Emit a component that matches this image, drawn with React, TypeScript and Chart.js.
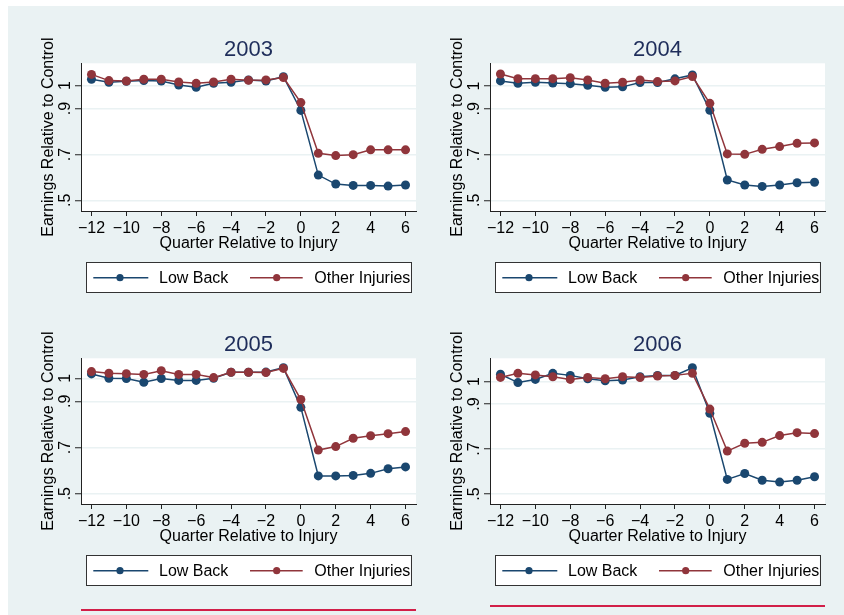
import React, { useEffect, useRef } from 'react';
import { Chart, registerables } from 'chart.js';

Chart.register(...registerables);

// ---------- data ----------
const quarters = [-12, -11, -10, -9, -8, -7, -6, -5, -4, -3, -2, -1, 0, 1, 2, 3, 4, 5, 6];
const xTickValues = [-12, -10, -8, -6, -4, -2, 0, 2, 4, 6];
const xTickLabels = ['\u221212', '\u221210', '\u22128', '\u22126', '\u22124', '\u22122', '0', '2', '4', '6'];
const yTickValues = [0.5, 0.7, 0.9, 1];
const yTickLabels = ['.5', '.7', '.9', '1'];
const seriesNames = ['Low Back', 'Other Injuries'];
const years = ['2003', '2004', '2005', '2006'];
const xTitle = 'Quarter Relative to Injury';
const yTitle = 'Earnings Relative to Control';

const lowBack2003 = [1.028, 1.015, 1.019, 1.022, 1.020, 1.003, 0.993, 1.010, 1.015, 1.025, 1.020, 1.039, 0.892, 0.610, 0.571, 0.565, 0.565, 0.562, 0.567];
const other2003 = [1.049, 1.022, 1.020, 1.028, 1.028, 1.016, 1.010, 1.016, 1.028, 1.023, 1.025, 1.035, 0.926, 0.705, 0.695, 0.699, 0.720, 0.720, 0.720];

const lowBack2004 = [1.022, 1.012, 1.016, 1.013, 1.010, 1.003, 0.994, 0.996, 1.015, 1.015, 1.031, 1.048, 0.894, 0.589, 0.567, 0.561, 0.567, 0.577, 0.579];
const other2004 = [1.052, 1.032, 1.032, 1.032, 1.036, 1.026, 1.012, 1.016, 1.026, 1.019, 1.022, 1.041, 0.924, 0.703, 0.701, 0.723, 0.735, 0.749, 0.751];

const lowBack2005 = [1.019, 1.000, 0.999, 0.983, 0.999, 0.991, 0.991, 1.000, 1.026, 1.026, 1.027, 1.046, 0.874, 0.577, 0.577, 0.579, 0.588, 0.608, 0.616];
const other2005 = [1.029, 1.022, 1.020, 1.017, 1.033, 1.017, 1.017, 1.003, 1.026, 1.026, 1.025, 1.043, 0.908, 0.689, 0.704, 0.740, 0.751, 0.760, 0.769];

const lowBack2006 = [1.033, 0.996, 1.010, 1.037, 1.028, 1.013, 1.004, 1.007, 1.022, 1.028, 1.028, 1.062, 0.859, 0.565, 0.591, 0.561, 0.553, 0.561, 0.577];
const other2006 = [1.019, 1.037, 1.030, 1.022, 1.010, 1.019, 1.013, 1.022, 1.018, 1.025, 1.028, 1.037, 0.878, 0.691, 0.726, 0.730, 0.760, 0.773, 0.769];

const xRange = [-12.6, 6.6];
const yRanges = [
  [0.4535, 1.0974],
  [0.4534, 1.099],
  [0.4552, 1.0867],
  [0.4555, 1.104],
];

// ---------- style ----------
const FONT = "'Liberation Sans', Arial, Helvetica, sans-serif";
const BG = '#eaf2f3';
const NAVY = '#1a476f';
const MAROON = '#90353b';
const TITLE_COLOR = '#1e2d5a';
const AXIS = '#222222';
const GRID = '#eaf2f3';

type Box = { left: number; top: number; width: number; height: number };
type Pad = { left: number; top: number; right: number; bottom: number };
type PanelCfg = { year: string; low: number[]; other: number[]; yMin: number; yMax: number; box: Box; pad: Pad };

const panels: PanelCfg[] = [
  { year: years[0], low: lowBack2003, other: other2003, yMin: yRanges[0][0], yMax: yRanges[0][1], box: { left: 0, top: 0, width: 418, height: 295 }, pad: { left: 48, top: 57.3, right: 10, bottom: 60 } },
  { year: years[1], low: lowBack2004, other: other2004, yMin: yRanges[1][0], yMax: yRanges[1][1], box: { left: 418, top: 0, width: 418, height: 295 }, pad: { left: 39, top: 57.3, right: 19, bottom: 60 } },
  { year: years[2], low: lowBack2005, other: other2005, yMin: yRanges[2][0], yMax: yRanges[2][1], box: { left: 0, top: 295, width: 418, height: 314 }, pad: { left: 48, top: 57.3, right: 10, bottom: 81 } },
  { year: years[3], low: lowBack2006, other: other2006, yMin: yRanges[3][0], yMax: yRanges[3][1], box: { left: 418, top: 295, width: 418, height: 314 }, pad: { left: 39, top: 57.3, right: 19, bottom: 81 } },
];

function makeDecor(cfg: PanelCfg) {
  return {
    id: 'decor',
    beforeDraw(chart: any) {
      const { ctx, chartArea: a } = chart;
      ctx.save();
      ctx.fillStyle = '#ffffff';
      ctx.fillRect(a.left, a.top, a.right - a.left, a.bottom - a.top);
      ctx.restore();
    },
    afterDraw(chart: any) {
      const { ctx, chartArea: a } = chart;
      const cx = (a.left + a.right) / 2;
      const cy = (a.top + a.bottom) / 2;
      ctx.save();
      // panel title
      ctx.font = `22px ${FONT}`;
      ctx.fillStyle = TITLE_COLOR;
      ctx.textAlign = 'center';
      ctx.textBaseline = 'alphabetic';
      ctx.fillText(cfg.year, cx, a.top - 7.3);
      // x title
      ctx.font = `16px ${FONT}`;
      ctx.fillStyle = '#000';
      ctx.fillText(xTitle, cx, a.bottom + 37.3);
      // y title
      ctx.save();
      ctx.translate(a.left - 28, cy);
      ctx.rotate(-Math.PI / 2);
      ctx.textAlign = 'center';
      ctx.fillText(yTitle, 0, 0);
      ctx.restore();
      // legend
      const lx = a.left + 5;
      const lw = a.right - 5.3 - lx;
      const ly = a.bottom + 51.3;
      const lh = 30;
      ctx.fillStyle = '#ffffff';
      ctx.fillRect(lx, ly, lw, lh);
      ctx.strokeStyle = '#333333';
      ctx.lineWidth = 1;
      ctx.strokeRect(Math.round(lx) + 0.5, Math.round(ly) + 0.5, Math.round(lw), lh);
      const my = ly + 15.4;
      const items = [
        { color: NAVY, l0: 7.3, l1: 62.3, m: 34, t: 73, label: seriesNames[0] },
        { color: MAROON, l0: 164, l1: 216.7, m: 190.7, t: 228.3, label: seriesNames[1] },
      ];
      for (const it of items) {
        ctx.strokeStyle = it.color;
        ctx.lineWidth = 1.5;
        ctx.beginPath();
        ctx.moveTo(lx + it.l0, my);
        ctx.lineTo(lx + it.l1, my);
        ctx.stroke();
        ctx.fillStyle = it.color;
        ctx.beginPath();
        ctx.arc(lx + it.m, my, 3.6, 0, Math.PI * 2);
        ctx.fill();
        ctx.fillStyle = '#000';
        ctx.textAlign = 'left';
        ctx.textBaseline = 'alphabetic';
        ctx.font = `16px ${FONT}`;
        ctx.fillText(it.label, lx + it.t, ly + 21);
      }
      ctx.restore();
    },
  };
}

function Panel({ cfg }: { cfg: PanelCfg }) {
  const ref = useRef<HTMLCanvasElement | null>(null);
  useEffect(() => {
    if (!ref.current) return;
    const chart = new Chart(ref.current, {
      type: 'line',
      data: {
        datasets: [
          {
            label: seriesNames[0],
            data: quarters.map((q, i) => ({ x: q, y: cfg.low[i] })),
            borderColor: NAVY,
            backgroundColor: NAVY,
            pointBackgroundColor: NAVY,
            pointBorderColor: NAVY,
            pointBorderWidth: 0,
            pointRadius: 4.5,
            borderWidth: 1.5,
            tension: 0,
            order: 1,
          },
          {
            label: seriesNames[1],
            data: quarters.map((q, i) => ({ x: q, y: cfg.other[i] })),
            borderColor: MAROON,
            backgroundColor: MAROON,
            pointBackgroundColor: MAROON,
            pointBorderColor: MAROON,
            pointBorderWidth: 0,
            pointRadius: 4.5,
            borderWidth: 1.5,
            tension: 0,
            order: 0,
          },
        ],
      },
      options: {
        animation: false,
        responsive: false,
        devicePixelRatio: 1,
        events: [],
        layout: { padding: cfg.pad },
        plugins: {
          legend: { display: false },
          title: { display: false },
          tooltip: { enabled: false },
        },
        scales: {
          x: {
            type: 'linear',
            min: xRange[0],
            max: xRange[1],
            afterBuildTicks: (s: any) => {
              s.ticks = xTickValues.map((v) => ({ value: v }));
            },
            afterFit: (s: any) => {
              s.height = 30;
            },
            ticks: {
              callback: (_v: any, i: number) => xTickLabels[i],
              font: { family: FONT, size: 16 },
              color: '#000',
              padding: 3,
              maxRotation: 0,
              minRotation: 0,
              autoSkip: false,
            },
            grid: { drawOnChartArea: false, drawTicks: true, tickLength: 5, tickColor: AXIS, tickWidth: 1 },
            border: { display: true, color: AXIS, width: 1 },
          },
          y: {
            type: 'linear',
            min: cfg.yMin,
            max: cfg.yMax,
            afterBuildTicks: (s: any) => {
              s.ticks = yTickValues.map((v) => ({ value: v }));
            },
            afterFit: (s: any) => {
              s.width = 25;
            },
            ticks: {
              callback: (_v: any, i: number) => yTickLabels[i],
              font: { family: FONT, size: 16 },
              color: '#000',
              padding: 2.5,
              minRotation: 90,
              maxRotation: 90,
              crossAlign: 'center',
              autoSkip: false,
            },
            grid: { color: GRID, lineWidth: 1.5, drawTicks: true, tickLength: 6, tickColor: AXIS, tickWidth: 1 },
            border: { display: true, color: AXIS, width: 1 },
          },
        },
      } as any,
      plugins: [makeDecor(cfg)],
    });
    return () => chart.destroy();
  }, [cfg]);
  return (
    <canvas
      ref={ref}
      width={cfg.box.width}
      height={cfg.box.height}
      style={{ position: 'absolute', left: cfg.box.left, top: cfg.box.top, width: cfg.box.width, height: cfg.box.height, display: 'block' }}
    />
  );
}

export default function App() {
  return (
    <div style={{ position: 'absolute', left: 8, top: 6, width: 836, height: 609, background: BG, overflow: 'hidden' }}>
      {panels.map((p) => (
        <Panel key={p.year} cfg={p} />
      ))}
      <div style={{ position: 'absolute', left: 73, top: 603.3, width: 335, height: 2, background: '#d21f48' }} />
      <div style={{ position: 'absolute', left: 482, top: 599, width: 335, height: 2, background: '#d21f48' }} />
    </div>
  );
}
